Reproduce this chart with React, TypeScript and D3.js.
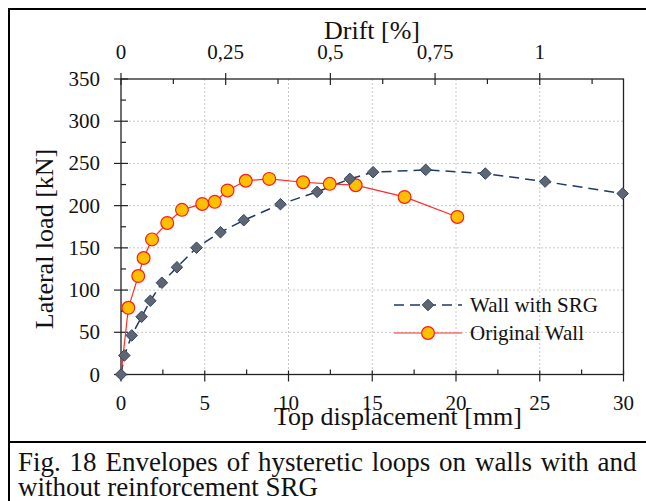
import React, { useEffect, useRef } from "react";
import * as d3 from "d3";

// Wall with SRG envelope (top displacement in mm, lateral load in kN)
const srgDisp = [0, 0.2, 0.64, 1.23, 1.75, 2.44, 3.34, 4.51, 5.94, 7.33, 9.52, 11.71, 13.66, 15.05, 18.19, 21.75, 25.32, 29.95];
const srgLoad = [0, 22.5, 46.3, 68.4, 87.3, 108.7, 127, 150.2, 168.5, 182.7, 201.7, 216.3, 231.7, 239.6, 242.4, 238, 228.5, 214.3];

// Original wall envelope (first point is the origin, drawn without marker)
const origDisp = [0, 0.44, 1.03, 1.35, 1.85, 2.76, 3.64, 4.85, 5.6, 6.36, 7.45, 8.85, 10.87, 12.46, 14.01, 16.93, 20.08];
const origLoad = [0, 79, 116.6, 138, 160, 179.5, 195, 202, 204.5, 218, 229.5, 231.7, 227.7, 225.8, 224.2, 210.3, 186.6];

const xTicks = [0, 5, 10, 15, 20, 25, 30];
const yTicks = [0, 50, 100, 150, 200, 250, 300, 350];
const driftTicks = [0, 0.25, 0.5, 0.75, 1];
const driftLabels = ["0", "0,25", "0,5", "0,75", "1"];
const wallHeight = 2500; // mm, 1% drift = 25 mm

const seriesNames = ["Wall with SRG", "Original Wall"];
const captionLines = [
  "Fig. 18 Envelopes of hysteretic loops on walls with and",
  "without reinforcement SRG",
];

const FONT = "'Liberation Serif', 'Times New Roman', Times, serif";

export default function App() {
  const ref = useRef<SVGSVGElement>(null);

  useEffect(() => {
    const svg = d3.select(ref.current);
    svg.selectAll("*").remove();

    const left = 121, right = 623.5, top = 79, bottom = 374.5;

    const x = d3.scaleLinear().domain([0, 30]).range([left, right]);
    const y = d3.scaleLinear().domain([0, 350]).range([bottom, top]);
    const xd = d3.scaleLinear().domain([0, (30 / wallHeight) * 100]).range([left, right]);

    // outer frame and caption separator
    svg.append("line").attr("x1", 8).attr("x2", 646).attr("y1", 9).attr("y2", 9)
      .attr("stroke", "#000").attr("stroke-width", 2);
    svg.append("line").attr("x1", 9).attr("x2", 9).attr("y1", 8).attr("y2", 501)
      .attr("stroke", "#000").attr("stroke-width", 2);
    svg.append("line").attr("x1", 8).attr("x2", 646).attr("y1", 442).attr("y2", 442)
      .attr("stroke", "#000").attr("stroke-width", 2);

    // ----- grid -----
    const grid = svg.append("g").attr("stroke", "#c8c8c8").attr("stroke-dasharray", "2,2");
    xTicks.slice(1, -1).forEach(t => {
      grid.append("line").attr("x1", x(t)).attr("x2", x(t)).attr("y1", top).attr("y2", bottom);
    });
    yTicks.slice(1, -1).forEach(t => {
      grid.append("line").attr("x1", left).attr("x2", right).attr("y1", y(t)).attr("y2", y(t));
    });

    // ----- plot box -----
    svg.append("rect").attr("x", left).attr("y", top)
      .attr("width", right - left).attr("height", bottom - top)
      .attr("fill", "none").attr("stroke", "#222").attr("stroke-width", 1.3);

    const ticks = svg.append("g").attr("stroke", "#222").attr("stroke-width", 1.2);

    // left axis ticks: major crossing, minor inside
    d3.range(0, 351, 25).forEach(v => {
      const major = v % 50 === 0;
      ticks.append("line")
        .attr("x1", major ? left - 7 : left).attr("x2", left + (major ? 7 : 5))
        .attr("y1", y(v)).attr("y2", y(v));
    });
    // bottom axis ticks
    d3.range(0, 30.1, 2.5).forEach(v => {
      const major = v % 5 === 0;
      ticks.append("line")
        .attr("x1", x(v)).attr("x2", x(v))
        .attr("y1", major ? bottom + 7 : bottom).attr("y2", bottom - (major ? 4 : 5));
    });
    // top axis ticks (drift)
    d3.range(0, 1.2, 0.125).forEach(v => {
      const major = Math.abs(v / 0.25 - Math.round(v / 0.25)) < 1e-6;
      ticks.append("line")
        .attr("x1", xd(v)).attr("x2", xd(v))
        .attr("y1", major ? top - 6 : top).attr("y2", top + (major ? 6 : 5));
    });

    // all text in a serif face
    const txt = (g: any, size: number) =>
      g.append("text").attr("font-family", FONT).attr("font-size", size)
        .attr("fill", "#111");

    // tick labels
    yTicks.forEach(t => {
      txt(svg, 21).attr("x", 100).attr("y", y(t) + 7).attr("text-anchor", "end").text(t);
    });
    xTicks.forEach(t => {
      txt(svg, 21).attr("x", x(t)).attr("y", 410).attr("text-anchor", "middle").text(t);
    });
    driftTicks.forEach((t, i) => {
      txt(svg, 21).attr("x", xd(t)).attr("y", 59).attr("text-anchor", "middle").text(driftLabels[i]);
    });

    // axis titles
    txt(svg, 26).attr("x", 372).attr("y", 39).attr("text-anchor", "middle").text("Drift [%]");
    txt(svg, 26).attr("x", 398).attr("y", 425).attr("text-anchor", "middle").text("Top displacement [mm]");
    txt(svg, 26).attr("transform", "translate(53,239) rotate(-90)")
      .attr("text-anchor", "middle").text("Lateral load [kN]");

    // ----- series -----
    const srg = srgDisp.map((d, i) => ({ d, p: srgLoad[i] }));
    const orig = origDisp.map((d, i) => ({ d, p: origLoad[i] }));

    const line = d3.line<{ d: number; p: number }>().x(v => x(v.d)).y(v => y(v.p));
    const diamond = d3.symbol().type(d3.symbolDiamond2).size(85);

    svg.append("path").attr("d", line(srg)).attr("fill", "none")
      .attr("stroke", "#1f3864").attr("stroke-width", 1.5).attr("stroke-dasharray", "10,6");
    svg.append("path").attr("d", line(orig)).attr("fill", "none")
      .attr("stroke", "#ff2a2a").attr("stroke-width", 1.2);

    svg.selectAll(".circ").data(orig.slice(1)).enter().append("circle")
      .attr("cx", v => x(v.d)).attr("cy", v => y(v.p)).attr("r", 6.4)
      .attr("fill", "#ffc000").attr("stroke", "#ff1a1a").attr("stroke-width", 1.2);

    svg.selectAll(".dia").data(srg).enter().append("path")
      .attr("d", diamond)
      .attr("transform", v => "translate(" + x(v.d) + "," + y(v.p) + ")")
      .attr("fill", "#5f6672").attr("stroke", "#2f4468").attr("stroke-width", 1);

    // ----- legend -----
    const rows = [305, 333];
    svg.append("line").attr("x1", 394).attr("x2", 462).attr("y1", rows[0]).attr("y2", rows[0])
      .attr("stroke", "#1f3864").attr("stroke-width", 1.5).attr("stroke-dasharray", "10,6");
    svg.append("path").attr("d", diamond).attr("transform", "translate(428," + rows[0] + ")")
      .attr("fill", "#5f6672").attr("stroke", "#2f4468");
    svg.append("line").attr("x1", 394).attr("x2", 462).attr("y1", rows[1]).attr("y2", rows[1])
      .attr("stroke", "#ff2a2a").attr("stroke-width", 1.2);
    svg.append("circle").attr("cx", 428).attr("cy", rows[1]).attr("r", 6.4)
      .attr("fill", "#ffc000").attr("stroke", "#ff1a1a").attr("stroke-width", 1.2);
    seriesNames.forEach((name, i) => {
      txt(svg, 21).attr("x", 470).attr("y", rows[i] + 7).text(name);
    });

    // ----- caption (first line justified) -----
    const first = txt(svg, 27).attr("x", 18).attr("y", 471).text(captionLines[0]);
    const natural = (first.node() as SVGTextElement).getComputedTextLength();
    const spaces = captionLines[0].split(" ").length - 1;
    first.attr("word-spacing", Math.max(0, (636.5 - 18 - natural) / spaces));
    txt(svg, 27).attr("x", 18).attr("y", 496).text(captionLines[1]);
  }, []);

  return (
    <svg ref={ref} width={646} height={501}
      style={{ position: "absolute", left: 0, top: 0, background: "#fff" }} />
  );
}
